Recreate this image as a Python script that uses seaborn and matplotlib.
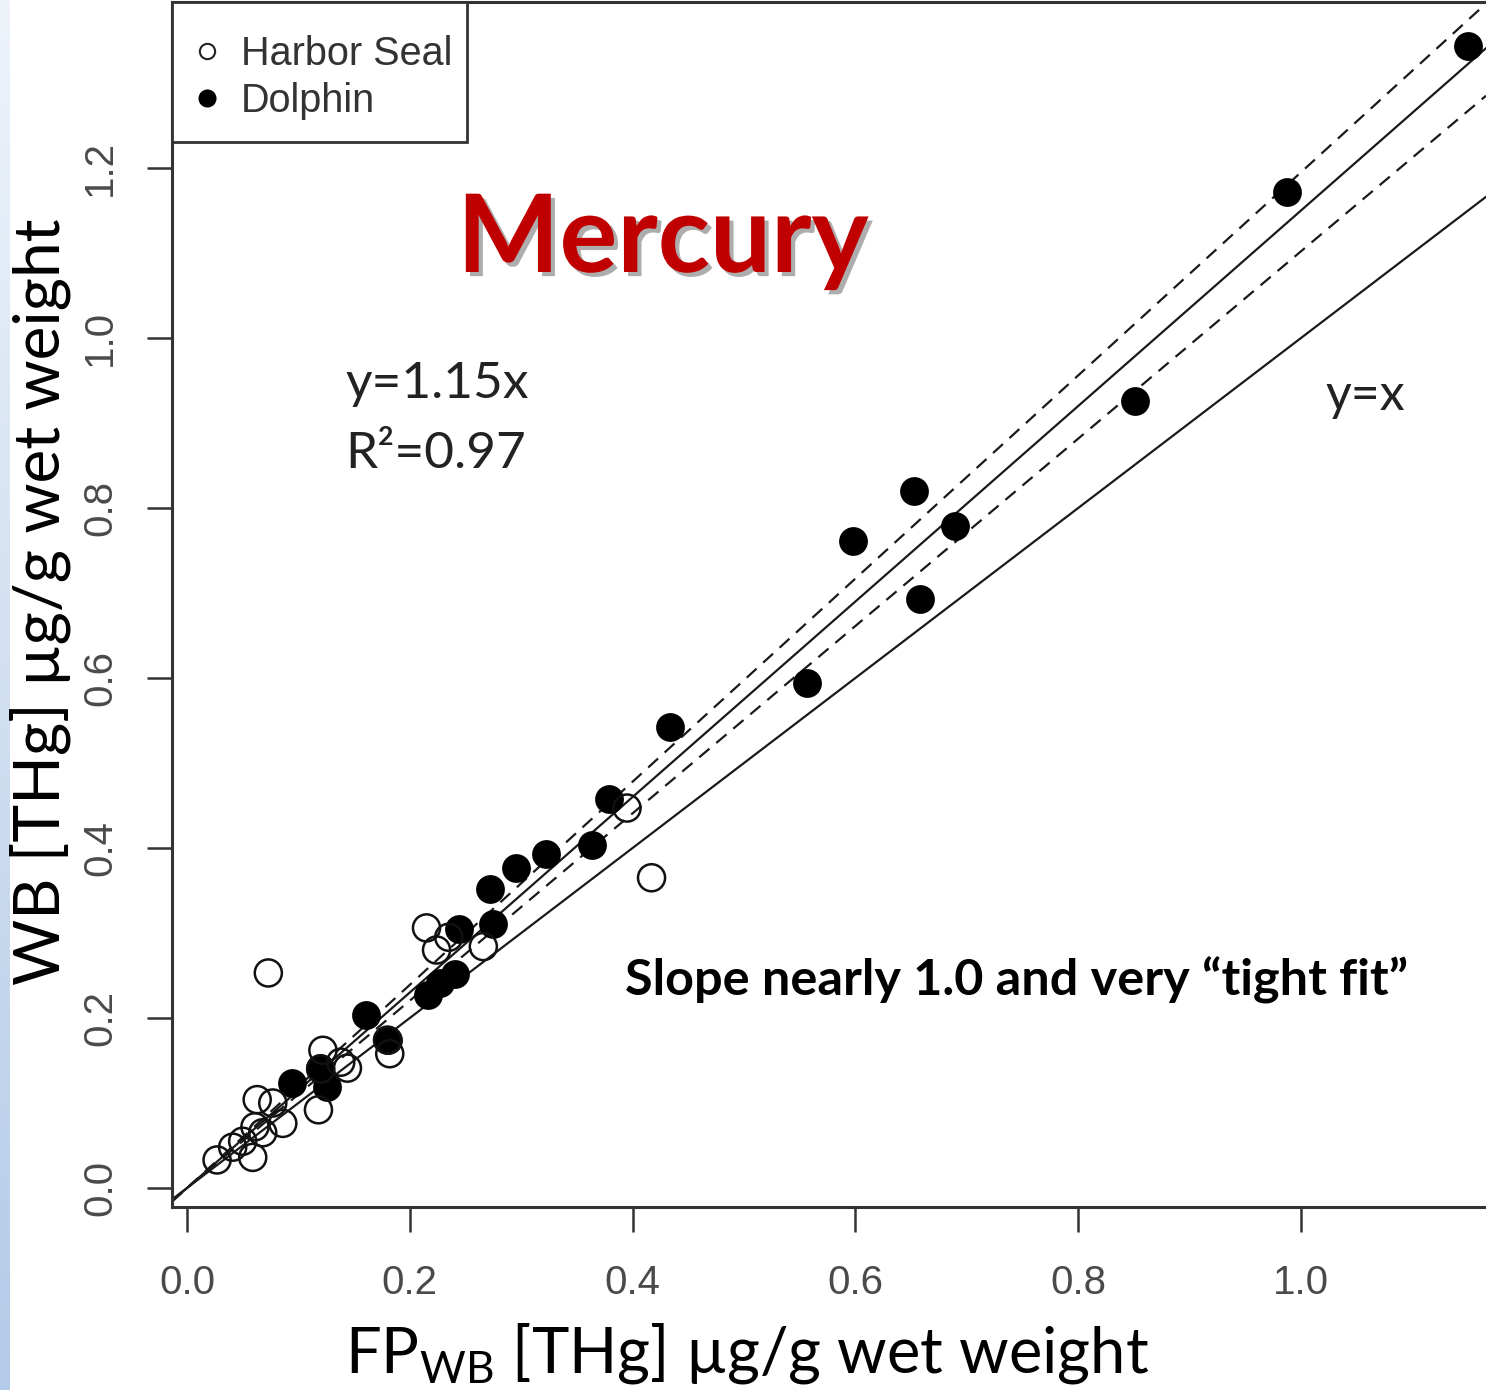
import matplotlib
matplotlib.use("Agg")
import matplotlib.pyplot as plt
import matplotlib.patheffects as pe
from matplotlib.colors import LinearSegmentedColormap
from matplotlib.lines import Line2D
from matplotlib.patches import Rectangle
import numpy as np
import pandas as pd
import seaborn as sns

# ---------------------------------------------------------------------------
# Data
# ---------------------------------------------------------------------------

seal_x = [0.073, 0.417, 0.395, 0.215, 0.224, 0.266, 0.122, 0.144, 0.118, 0.086,
          0.063, 0.077, 0.061, 0.041, 0.027, 0.059, 0.182, 0.180, 0.050, 0.068,
          0.235, 0.120, 0.138]
seal_y = [0.253, 0.365, 0.447, 0.306, 0.280, 0.284, 0.162, 0.141, 0.092, 0.076,
          0.104, 0.100, 0.072, 0.048, 0.033, 0.036, 0.158, 0.174, 0.055, 0.065,
          0.295, 0.140, 0.148]

dolphin_x = [1.150, 0.987, 0.851, 0.653, 0.689, 0.598, 0.658, 0.557, 0.434, 0.379,
             0.364, 0.322, 0.295, 0.272, 0.275, 0.244, 0.241, 0.227, 0.216, 0.161,
             0.180, 0.094, 0.119, 0.126]
dolphin_y = [1.344, 1.172, 0.926, 0.820, 0.779, 0.761, 0.693, 0.594, 0.542, 0.458,
             0.404, 0.393, 0.376, 0.352, 0.311, 0.305, 0.252, 0.241, 0.227, 0.204,
             0.174, 0.124, 0.141, 0.119]

fit_slope = 1.15
ci_slopes = [1.102, 1.195]
x_ticks = [0.0, 0.2, 0.4, 0.6, 0.8, 1.0]
y_ticks = [0.0, 0.2, 0.4, 0.6, 0.8, 1.0, 1.2]

seal = pd.DataFrame({"x": seal_x, "y": seal_y})
dolphin = pd.DataFrame({"x": dolphin_x, "y": dolphin_y})

# ---------------------------------------------------------------------------
# Figure
# ---------------------------------------------------------------------------

sns.set_theme(style="white")
plt.rcParams["font.family"] = ["Lato", "DejaVu Sans"]
plt.rcParams["mathtext.fontset"] = "custom"
plt.rcParams["mathtext.rm"] = "Lato"

W, H = 1486, 1390
fig = plt.figure(figsize=(W / 100, H / 100), dpi=100)
fig.patch.set_facecolor("white")

# pale blue strip on the left edge
strip = fig.add_axes([0, 0, 10 / W, 1])
strip.imshow(np.linspace(0, 1, 256).reshape(-1, 1), aspect="auto",
             cmap=LinearSegmentedColormap.from_list("strip", ["#eef3fa", "#b3cbe8"]))
strip.axis("off")

AX_L, AX_B, AX_T = 172, 1207, 2
AX_W, AX_H = W - AX_L, AX_B - AX_T
ax = fig.add_axes([AX_L / W, (H - AX_B) / H, AX_W / W, AX_H / H])
ax.set_xlim((AX_L - 187) / 1114, (W - 187) / 1114)
ax.set_ylim((1188 - AX_B) / 850, (1188 - AX_T) / 850)

LINE = "#1a1a1a"
ax.axline((0, 0), slope=1.0, color=LINE, lw=1.6, zorder=2)
ax.axline((0, 0), slope=fit_slope, color=LINE, lw=1.6, zorder=2)
for s in ci_slopes:
    ax.axline((0, 0), slope=s, color=LINE, lw=1.6, ls=(0, (6, 4)), zorder=2)

sns.scatterplot(data=dolphin, x="x", y="y", ax=ax, s=430, marker="o",
                color="black", edgecolor="black", linewidth=0, zorder=3, legend=False)
sns.scatterplot(data=seal, x="x", y="y", ax=ax, s=380, marker="o",
                facecolors="none", edgecolor="#111111", linewidth=1.8, zorder=4,
                legend=False)

# axes frame (R style box, right side cut off)
for side in ["left", "bottom", "top"]:
    ax.spines[side].set_color("#333333")
    ax.spines[side].set_linewidth(2.2)
ax.spines["right"].set_visible(False)

ax.set_xticks(x_ticks)
ax.set_xticklabels([f"{v:.1f}" for v in x_ticks])
ax.set_yticks(y_ticks)
ax.set_yticklabels([f"{v:.1f}" for v in y_ticks], rotation=90, va="center")
ax.tick_params(axis="both", direction="out", length=18, width=1.8, color="#333333",
               labelsize=29, labelcolor="#4a4a4a", bottom=True, left=True)
ax.tick_params(axis="x", pad=23)
ax.tick_params(axis="y", pad=20)
for lab in ax.get_xticklabels() + ax.get_yticklabels():
    lab.set_fontfamily("Liberation Sans")
ax.set_xlabel("")
ax.set_ylabel("")

# axis titles
fig.text(40 / W, 1 - 602 / H, "WB [THg] µg/g wet weight", rotation=90,
         ha="center", va="center", fontsize=46, color="black")
fig.text(345 / W, 1 - 1372 / H, r"FP$_{\mathrm{WB}}$ [THg] µg/g wet weight",
         ha="left", va="baseline", fontsize=45.5, color="black")

# annotations
ax.text((663 - 187) / 1114, (1188 - 272) / 850, "Mercury", ha="center", va="baseline",
        fontsize=78, fontweight="bold", color="#C00000",
        path_effects=[pe.SimplePatchShadow(offset=(3, -3), shadow_rgbFace="#777777", alpha=0.6),
                      pe.Normal()])
ax.text((345 - 187) / 1114, (1188 - 398) / 850, "y=1.15x", ha="left", va="baseline",
        fontsize=37, color="#222222")
ax.text((345 - 187) / 1114, (1188 - 468) / 850, "R²=0.97", ha="left", va="baseline",
        fontsize=37, color="#222222")
ax.text((1325 - 187) / 1114, (1188 - 410) / 850, "y=x", ha="left", va="baseline",
        fontsize=36, color="#222222")
ax.text((625 - 187) / 1114, (1188 - 996) / 850, "Slope nearly 1.0 and very “tight fit”",
        ha="left", va="baseline", fontsize=36.3, fontweight="bold", color="black")

# legend: frame drawn as its own box, entries placed inside it
ax.add_patch(Rectangle((0, (AX_B - 142) / AX_H), (467 - AX_L) / AX_W, (142 - AX_T) / AX_H,
                       transform=ax.transAxes, facecolor="white", edgecolor="#333333",
                       linewidth=2.0, clip_on=False, zorder=5))
handles = [
    Line2D([], [], ls="none", marker="o", markersize=11, markerfacecolor="none",
           markeredgecolor="#222222", markeredgewidth=1.5),
    Line2D([], [], ls="none", marker="o", markersize=12, markerfacecolor="black",
           markeredgecolor="black"),
]
leg = ax.legend(handles, ["Harbor Seal", "Dolphin"], loc="upper left",
                bbox_to_anchor=((195 - AX_L) / AX_W, (AX_B - 35) / AX_H),
                borderaxespad=0, borderpad=0, frameon=False,
                prop={"family": "Liberation Sans", "size": 28.5}, labelspacing=0.22,
                handlelength=0.6, handletextpad=0.56)
leg.set_zorder(6)
for t in leg.get_texts():
    t.set_color("#333333")

fig.savefig("out.png", dpi=100, facecolor="white")
